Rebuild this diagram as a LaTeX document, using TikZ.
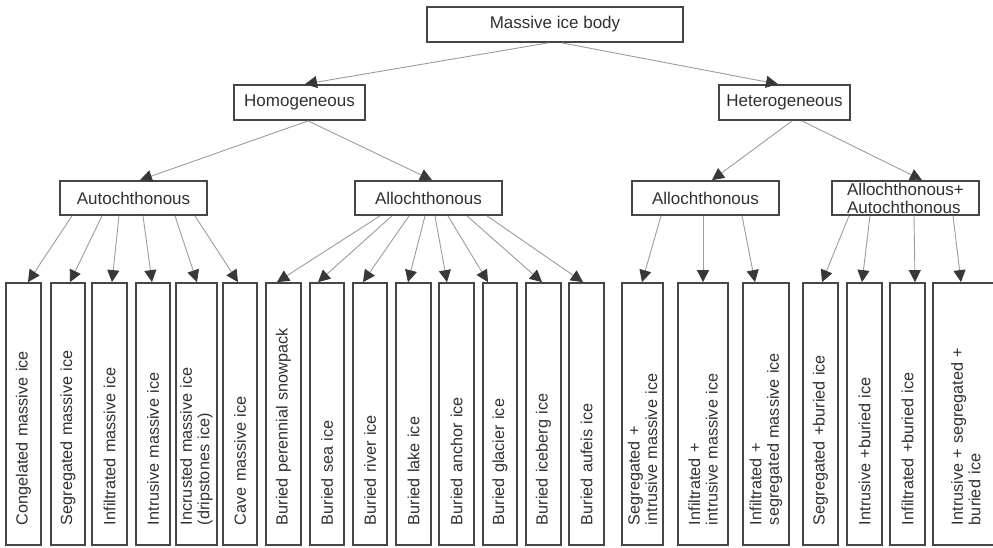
\documentclass[tikz,border=0pt]{standalone}
\usepackage{fontspec}
\setmainfont{Liberation Sans}
\usetikzlibrary{arrows.meta}
\definecolor{boxc}{HTML}{464646}
\definecolor{linec}{HTML}{9C9C9C}
\definecolor{tipc}{HTML}{383838}
\definecolor{txtc}{HTML}{303030}
\begin{document}
\begin{tikzpicture}[x=1pt,y=-1pt,
  box/.style={draw=boxc, line width=1.8pt, rectangle, inner sep=0pt, text=txtc,
    align=center, font=\fontsize{17}{18}\selectfont},
  leaf/.style={draw=boxc, line width=1.8pt, rectangle, rotate=90, inner xsep=20pt,
    inner ysep=0pt, text width=222pt, minimum width=262pt, minimum height=#1,
    align=left, text=txtc, font=\fontsize{16.2}{17.5}\selectfont},
  arr/.style={draw=linec, line width=0.9pt, -{Triangle[width=12pt,length=12pt,color=tipc]}}
]
\clip (0,0) rectangle (993,547);
% upper levels
\node[box, minimum width=256pt, minimum height=35pt] (root) at (555,24.5) {Massive ice body};
\node[box, minimum width=131pt, minimum height=35pt] (hom) at (299.5,102.5) {Homogeneous};
\node[box, minimum width=131pt, minimum height=35pt] (het) at (784.5,102.5) {Heterogeneous};
\node[box, minimum width=147pt, minimum height=34pt] (aut) at (133.5,198) {Autochthonous};
\node[box, minimum width=147pt, minimum height=34pt] (alo) at (428.5,198) {Allochthonous};
\node[box, minimum width=147pt, minimum height=34pt] (halo) at (705.5,198) {Allochthonous};
\node[box, minimum width=147pt, minimum height=34pt, align=left] (aa) at (905.5,198) {Allochthonous+\\Autochthonous};
% leaves
\node[leaf=35pt] (l1) at (23.5,414) {Congelated massive ice};
\node[leaf=34pt] (l2) at (68,414) {Segregated massive ice};
\node[leaf=35pt] (l3) at (109.5,414) {Infiltrated massive ice};
\node[leaf=34pt] (l4) at (153,414) {Intrusive massive ice};
\node[leaf=41pt] (l5) at (196.5,414) {Incrusted massive ice\\(dripstones ice)};
\node[leaf=34pt] (l6) at (240,414) {Cave massive ice};
\node[leaf=35pt] (l7) at (283.5,414) {Buried perennial snowpack};
\node[leaf=34pt] (l8) at (327,414) {Buried sea ice};
\node[leaf=34pt] (l9) at (370,414) {Buried river ice};
\node[leaf=35pt] (l10) at (413.5,414) {Buried lake ice};
\node[leaf=35pt] (l11) at (456.5,414) {Buried anchor ice};
\node[leaf=34pt] (l12) at (500,414) {Buried glacier ice};
\node[leaf=35pt] (l13) at (543.5,414) {Buried iceberg ice};
\node[leaf=35pt] (l14) at (586.5,414) {Buried aufeis ice};
\node[leaf=41pt] (l15) at (642.5,414) {Segregated +\\intrusive massive ice};
\node[leaf=50pt] (l16) at (703,414) {Infiltrated +\\intrusive massive ice};
\node[leaf=46pt] (l17) at (766,414) {Infiltrated +\\segregated massive ice};
\node[leaf=35pt] (l18) at (820.5,414) {Segregated +buried ice};
\node[leaf=35pt] (l19) at (864.5,414) {Intrusive +buried ice};
\node[leaf=35pt] (l20) at (907.5,414) {Infiltrated +buried ice};
\node[leaf=67pt, text depth=19pt] (l21) at (966.5,414) {Intrusive + segregated +\\buried ice};
% connectors
\draw[arr] ([xshift=-7pt]root.south) -- ([xshift=5.5pt]hom.north);
\draw[arr] ([xshift=7pt]root.south) -- ([xshift=-6.5pt]het.north);
\draw[arr] ([xshift=8.5pt]hom.south) -- ([xshift=6.5pt]aut.north);
\draw[arr] ([xshift=8.5pt]hom.south) -- ([xshift=3.5pt]alo.north);
\draw[arr] ([xshift=7.5pt]het.south) -- ([xshift=6.5pt]halo.north);
\draw[arr] ([xshift=17.5pt]het.south) -- ([xshift=16.5pt]aa.north);
\draw[arr] ([xshift=-61.5pt]aut.south) -- ([xshift=4.5pt]l1.east);
\draw[arr] ([xshift=-31.5pt]aut.south) -- ([xshift=2pt]l2.east);
\draw[arr] ([xshift=-14.5pt]aut.south) -- ([xshift=2.5pt]l3.east);
\draw[arr] ([xshift=9.5pt]aut.south) -- ([xshift=-1pt]l4.east);
\draw[arr] ([xshift=41.5pt]aut.south) -- ([xshift=0.5pt]l5.east);
\draw[arr] ([xshift=61.5pt]aut.south) -- ([xshift=-2pt]l6.east);
\draw[arr] ([xshift=-48.5pt]alo.south) -- ([xshift=-6.5pt]l7.east);
\draw[arr] ([xshift=-36.5pt]alo.south) -- ([xshift=-9pt]l8.east);
\draw[arr] ([xshift=-19.5pt]alo.south) -- ([xshift=-7pt]l9.east);
\draw[arr] ([xshift=-3.5pt]alo.south) -- ([xshift=-5.5pt]l10.east);
\draw[arr] ([xshift=6.5pt]alo.south) -- ([xshift=-9.5pt]l11.east);
\draw[arr] ([xshift=19.5pt]alo.south) -- ([xshift=-12pt]l12.east);
\draw[arr] ([xshift=38.5pt]alo.south) -- ([xshift=-1.5pt]l13.east);
\draw[arr] ([xshift=58.5pt]alo.south) -- ([xshift=-3.5pt]l14.east);
\draw[arr] ([xshift=-44.5pt]halo.south) -- ([xshift=-0.5pt]l15.east);
\draw[arr] ([xshift=-2.5pt]halo.south) -- (l16.east);
\draw[arr] ([xshift=36.5pt]halo.south) -- ([xshift=-11pt]l17.east);
\draw[arr] ([xshift=-56.5pt]aa.south) -- ([xshift=1.5pt]l18.east);
\draw[arr] ([xshift=-35.5pt]aa.south) -- ([xshift=-2.5pt]l19.east);
\draw[arr] ([xshift=8.5pt]aa.south) -- ([xshift=7.5pt]l20.east);
\draw[arr] ([xshift=47.5pt]aa.south) -- ([xshift=-5.5pt]l21.east);
\end{tikzpicture}
\end{document}
